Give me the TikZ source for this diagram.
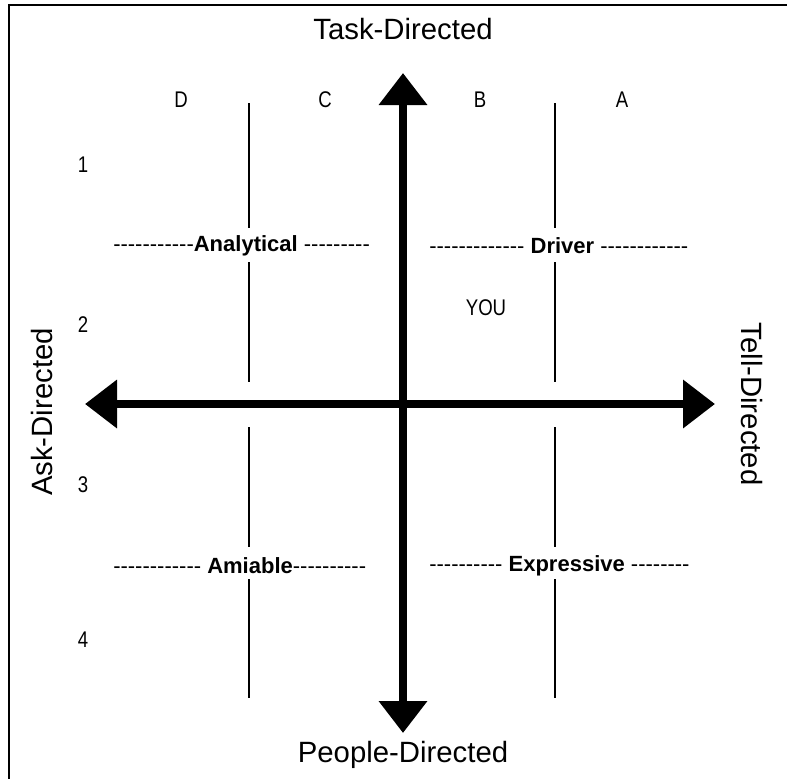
\documentclass[tikz,border=0pt]{standalone}
\usepackage{fontspec}
\setmainfont{Liberation Sans}
\newfontfamily\narrowfont{Liberation Sans}[FakeStretch=0.82]
\usetikzlibrary{arrows.meta}
\newcommand\dashrun[1]{\foreach \k in {1,...,#1}{\mbox{-}}}
\begin{document}
\begin{tikzpicture}[x=0.75pt,y=-0.75pt,
  axis/.style={line width=6pt,{Triangle[length=24pt,width=35pt]}-{Triangle[length=24pt,width=35pt]}},
  divider/.style={line width=1.3pt},
  frameline/.style={line width=1.5pt},
  biglabel/.style={inner sep=0pt,font=\fontsize{22pt}{25pt}\selectfont},
  smalllabel/.style={inner sep=0pt,font=\narrowfont\fontsize{17pt}{20pt}\selectfont},
  rowlabel/.style={inner sep=0pt,anchor=west,font=\fontsize{16.5pt}{19pt}\selectfont}]
\useasboundingbox (0,0) rectangle (787,778);
% frame (only top and left visible)
\coordinate (fbl) at (9,779);
\coordinate (ftl) at (9,5);
\coordinate (ftr) at (788,5);
\draw[frameline] (fbl) -- (ftl) -- (ftr);
% axis titles
\node[biglabel] (task) at (403,29) {Task-Directed};
\node[biglabel] (people) at (403,755) {People-Directed};
\node[biglabel,rotate=90] (ask) at (42,412) {Ask-Directed};
\node[biglabel,rotate=-90] (tell) at (752,404) {Tell-Directed};
% column letters
\node[smalllabel] (colD) at (181,100) {D};
\node[smalllabel] (colC) at (325,100) {C};
\node[smalllabel] (colB) at (480,100) {B};
\node[smalllabel] (colA) at (622,100) {A};
% row numbers
\node[smalllabel] (row1) at (83,165) {1};
\node[smalllabel] (row2) at (83,325) {2};
\node[smalllabel] (row3) at (83,485) {3};
\node[smalllabel] (row4) at (83,640) {4};
\node[smalllabel] (you) at (486,308) {YOU};
% dividers
\coordinate (l1) at (249,103); \coordinate (l2) at (249,228);
\coordinate (l3) at (249,262); \coordinate (l4) at (249,382);
\coordinate (l5) at (249,427); \coordinate (l6) at (249,547);
\coordinate (l7) at (249,579); \coordinate (l8) at (249,698);
\coordinate (r1) at (555,103); \coordinate (r2) at (555,228);
\coordinate (r3) at (555,262); \coordinate (r4) at (555,382);
\coordinate (r5) at (555,427); \coordinate (r6) at (555,547);
\coordinate (r7) at (555,579); \coordinate (r8) at (555,698);
\draw[divider] (l1)--(l2) (l3)--(l4) (l5)--(l6) (l7)--(l8);
\draw[divider] (r1)--(r2) (r3)--(r4) (r5)--(r6) (r7)--(r8);
% style labels
\node[rowlabel] (analytical) at (113,246) {\dashrun{11}\textbf{Analytical} \dashrun{9}};
\node[rowlabel] (driver) at (429,246) {\dashrun{13} \textbf{Driver} \dashrun{12}};
\node[rowlabel] (amiable) at (113,566) {\dashrun{12} \textbf{Amiable}\dashrun{10}};
\node[rowlabel] (expressive) at (429,566) {\dashrun{10} \textbf{Expressive} \dashrun{8}};
% axes
\coordinate (ntip) at (403,73);
\coordinate (stip) at (403,733);
\coordinate (wtip) at (85,404);
\coordinate (etip) at (715,404);
\draw[axis] (stip) -- (ntip);
\draw[axis] (wtip) -- (etip);
\end{tikzpicture}
\end{document}
